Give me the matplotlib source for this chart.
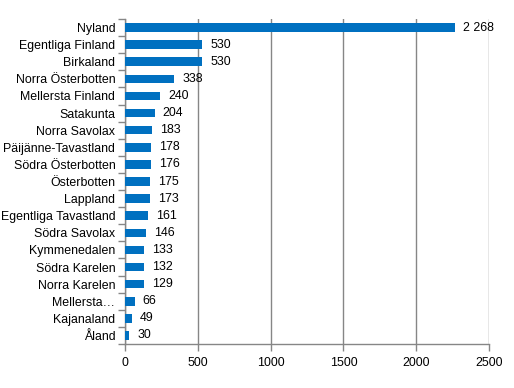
import matplotlib.pyplot as plt
import numpy as np

# regions, top to bottom
regions = ['Nyland', 'Egentliga Finland', 'Birkaland', 'Norra Österbotten',
           'Mellersta Finland', 'Satakunta', 'Norra Savolax', 'Päijänne-Tavastland',
           'Södra Österbotten', 'Österbotten', 'Lappland', 'Egentliga Tavastland',
           'Södra Savolax', 'Kymmenedalen', 'Södra Karelen', 'Norra Karelen',
           'Mellersta…', 'Kajanaland', 'Åland']
values = [2268, 530, 530, 338, 240, 204, 183, 178, 176, 175, 173, 161,
          146, 133, 132, 129, 66, 49, 30]
xticks = [0, 500, 1000, 1500, 2000, 2500]

plt.rcParams['font.family'] = ['Liberation Sans', 'DejaVu Sans']
plt.rcParams['font.size'] = 8.9

fig = plt.figure(figsize=(5.14, 3.88), dpi=100)
ax = fig.add_axes([0.2432, 0.1134, 0.9514 - 0.2432, 0.951 - 0.1134])

y = np.arange(len(regions))
ax.barh(y, values, height=0.5, color='#0070C0', zorder=3)

# value labels, space as thousands separator
for yi, v in zip(y, values):
    ax.text(v + 55, yi, f'{v:,}'.replace(',', ' '), va='center', ha='left',
            color='#000000', zorder=4)

ax.set_ylim(len(regions) - 0.5, -0.5)
ax.set_xlim(0, 2500)
ax.set_xticks(xticks)
ax.set_yticks(y)
ax.set_yticklabels(regions)
ax.set_yticks(np.arange(len(regions) + 1) - 0.5, minor=True)

ax.tick_params(axis='y', which='major', length=0, pad=7)
ax.tick_params(axis='y', which='minor', length=5, color='#868686', width=1)
ax.tick_params(axis='x', length=5, color='#868686', width=1, pad=4)

ax.grid(axis='x', color='#868686', linewidth=1, zorder=0)
for s in ['top', 'right']:
    ax.spines[s].set_visible(False)
for s in ['left', 'bottom']:
    ax.spines[s].set_color('#868686')
    ax.spines[s].set_linewidth(1)

fig.savefig('out.png', dpi=100)
